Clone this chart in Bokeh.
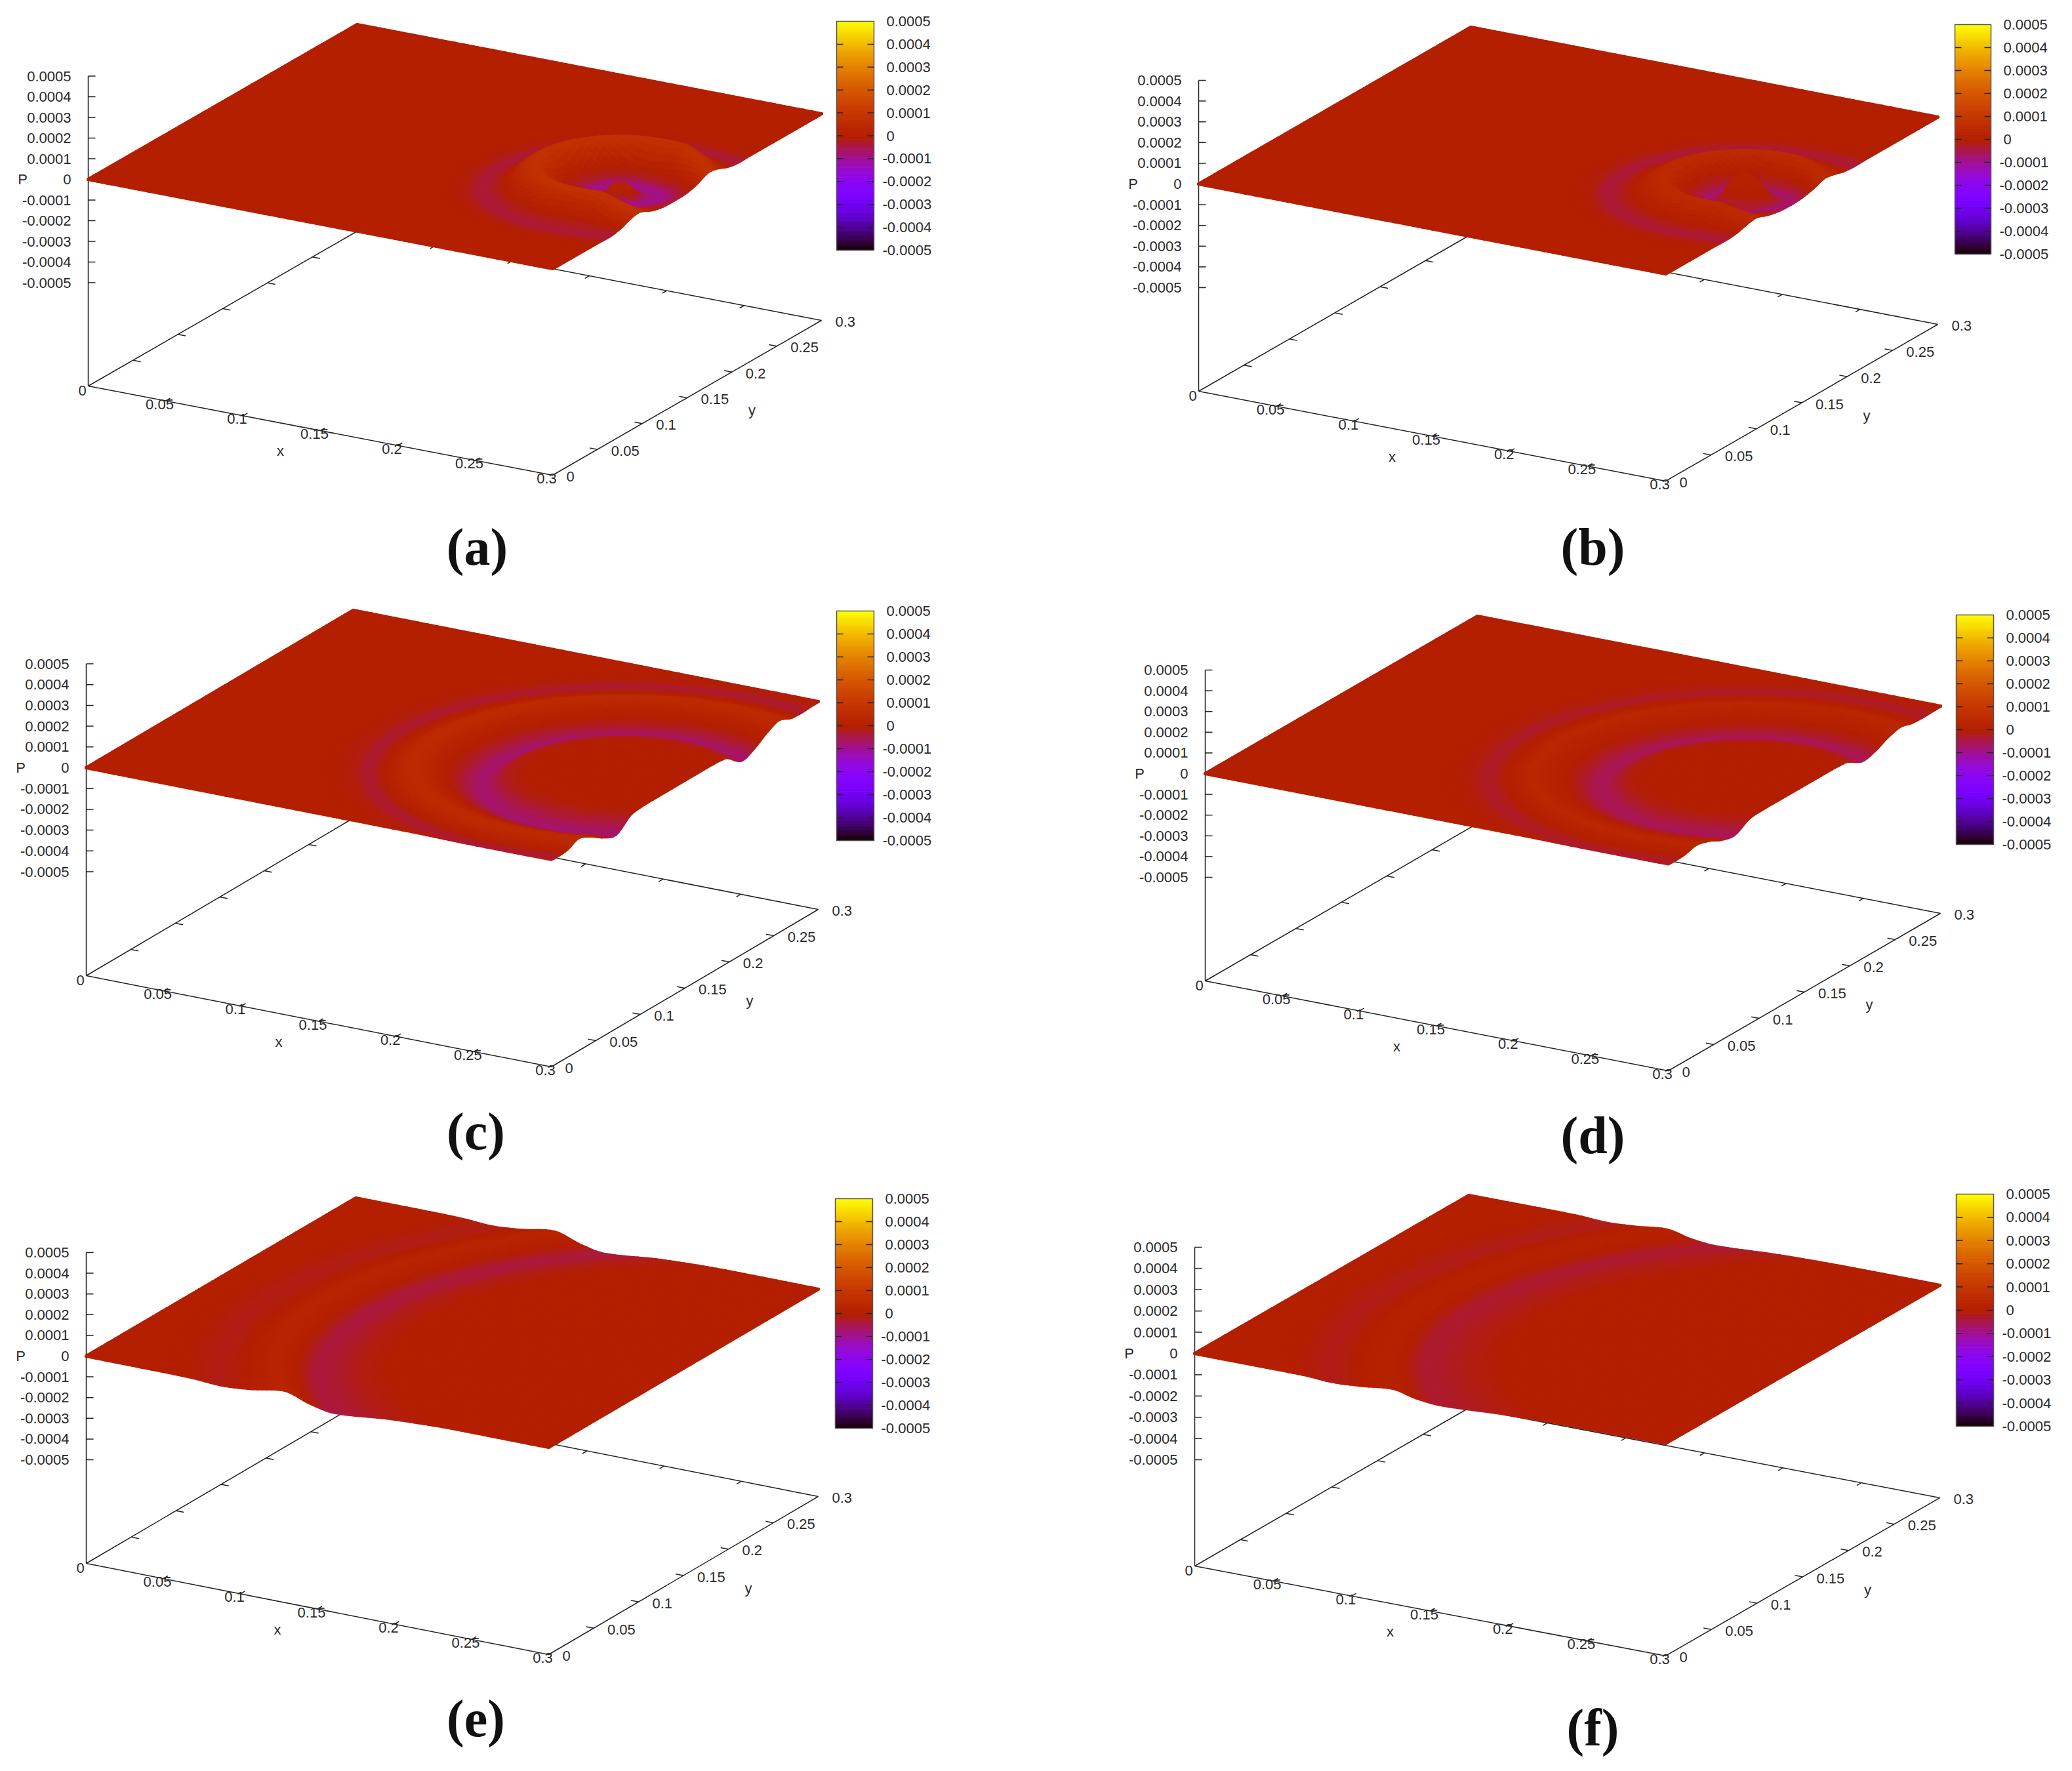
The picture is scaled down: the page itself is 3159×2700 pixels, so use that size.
import numpy as np
from bokeh.plotting import figure
from bokeh.layouts import column, row
from bokeh.models import Range1d, ColumnDataSource
from bokeh.core.properties import value
from bokeh.embed import file_html
from bokeh.resources import INLINE

# ---- tick labels -----
xy_ticks = [0.05, 0.1, 0.15, 0.2, 0.25]
xy_tick_labels = ["0.05", "0.1", "0.15", "0.2", "0.25"]
p_ticks = [0.0005, 0.0004, 0.0003, 0.0002, 0.0001, 0, -0.0001, -0.0002, -0.0003, -0.0004, -0.0005]
p_tick_labels = ["0.0005", "0.0004", "0.0003", "0.0002", "0.0001", "0",
                 "-0.0001", "-0.0002", "-0.0003", "-0.0004", "-0.0005"]
captions = ["(a)", "(b)", "(c)", "(d)", "(e)", "(f)"]

# ---- wave values: distance from source, colour value, surface height ----
r_a = [0, .004, .007, .010, .017, .026, .032, .047, .057, .064, .077, .088, .1]
c_a = [2e-5, 2e-5, 0, -6e-5, -9e-5, -3e-5, 0, 8e-5, 4e-5, 0, -3.5e-5, -.5e-5, 0]
h_a = [3e-5, 2e-5, -1e-5, -3e-5, -3e-5, -2e-5, 1e-5, 12e-5, 8e-5, 3e-5, -.5e-5, 0, 0]

r_b = [0, .005, .010, .015, .02, .026, .032, .044, .056, .063, .075, .086, .1]
c_b = [2e-5, 1.5e-5, 0, -4e-5, -7e-5, -3e-5, 0, 5e-5, 2e-5, -.5e-5, -3.5e-5, -.5e-5, 0]
h_b = [10e-5, 8e-5, 2e-5, -3e-5, -4e-5, -2e-5, 1e-5, 8e-5, 4e-5, 1e-5, -.5e-5, 0, 0]

r_c = [0, .05, .062, .08, .092, .105, .118, .132, .143, .153, .17]
c_c = [0, 0, -1e-5, -7e-5, -2.5e-5, 2e-5, 5e-5, 1e-5, -3e-5, -.7e-5, 0]
h_c = [0, 0, -.5e-5, -6.5e-5, -4e-5, 0, 2.5e-5, 0, -.3e-5, 0, 0]

r_d = [0, .05, .062, .08, .092, .105, .118, .132, .143, .153, .17]
c_d = [0, 0, -.7e-5, -5.5e-5, -2e-5, 1.5e-5, 3.5e-5, 0, -2.5e-5, -.6e-5, 0]
h_d = [0, 0, -.3e-5, -4.5e-5, -3e-5, 0, 1.5e-5, 0, -.2e-5, 0, 0]

r_e = [0, .16, .18, .205, .215, .228, .245, .26, .275, .29]
c_e = [0, 0, -1.2e-5, -3.8e-5, -5e-6, 2.5e-5, 0, -1.3e-5, -3e-6, 0]
h_e = [0, 0, -1e-5, -3.5e-5, -1.5e-5, 2.5e-5, 0, -1e-5, -2e-6, 0]

r_f = [0, .16, .18, .208, .218, .23, .245, .26, .275, .29]
c_f = [0, 0, -1e-5, -3e-5, -5e-6, 1.5e-5, 0, -1.5e-5, -3e-6, 0]
h_f = [0, 0, -.5e-5, -2e-5, -1e-5, 1.5e-5, 0, -.8e-5, -1e-6, 0]

profiles = [(r_a, c_a, h_a), (r_b, c_b, h_b), (r_c, c_c, h_c), (r_d, c_d, h_d), (r_e, c_e, h_e), (r_f, c_f, h_f)]
centres = [(.265, .135), (.27, .137), (.265, .143), (.265, .143), (.30, .15), (.30, .15)]
near_wall_squeeze = [.7, .7, 1, 1, 1, 1]
near_wall_height = [.3, .3, 1, 1, 1, 1]

# ---- layout of each panel: base corners O, X, XY and surface zero level, colour bar box -----
layouts = [
    dict(O=(134, 588), X=(842, 724), XY=(1252, 488), z0=273, cb=(1275, 32, 1332, 381), view=(0, 0, 1572, 892)),
    dict(O=(1827, 596), X=(2539, 733), XY=(2954, 494), z0=280, cb=(2980, 37, 3035, 387), view=(1572, 0, 1571, 892)),
    dict(O=(131, 1487), X=(840, 1626), XY=(1247, 1386), z0=1170, cb=(1275, 931, 1332, 1281), view=(0, 892, 1572, 890)),
    dict(O=(1837, 1495), X=(2543, 1632), XY=(2958, 1392), z0=1179, cb=(2982, 937, 3039, 1287), view=(1572, 892, 1571, 890)),
    dict(O=(131, 2383), X=(836, 2522), XY=(1247, 2281), z0=2067, cb=(1273, 1827, 1330, 2177), view=(0, 1782, 1572, 902)),
    dict(O=(1821, 2387), X=(2539, 2524), XY=(2957, 2283), z0=2063, cb=(2982, 1820, 3039, 2174), view=(1572, 1782, 1571, 902)),
]
caption_pos = [(727, 833), (2428, 833), (725, 1724), (2428, 1730), (725, 2619), (2428, 2633)]

LEVELS = 200
FONT = value("Liberation Sans")
TXT = "#2a2a2a"
LINE = "#222222"


def smooth(q, xs, ys):
    xs, ys = np.asarray(xs, float), np.asarray(ys, float)
    dx = np.diff(xs)
    sl = np.diff(ys) / dx
    m = np.zeros_like(ys)
    for i in range(1, len(ys) - 1):
        if sl[i - 1] * sl[i] > 0:
            w1, w2 = 2 * dx[i] + dx[i - 1], dx[i] + 2 * dx[i - 1]
            m[i] = (w1 + w2) / (w1 / sl[i - 1] + w2 / sl[i])
    q = np.clip(np.asarray(q, float), xs[0], xs[-1])
    k = np.clip(np.searchsorted(xs, q, side="right") - 1, 0, len(dx) - 1)
    t = (q - xs[k]) / dx[k]
    return ((2 * t ** 3 - 3 * t ** 2 + 1) * ys[k] + (t ** 3 - 2 * t ** 2 + t) * dx[k] * m[k]
            + (-2 * t ** 3 + 3 * t ** 2) * ys[k + 1] + (t ** 3 - t ** 2) * dx[k] * m[k + 1])


def palette(v):
    g = np.clip((np.asarray(v, float) + 5e-4) / 1e-3, 0, 1)
    g = np.round(g * LEVELS) / LEVELS
    r = np.sqrt(g)
    gg = g ** 3
    b = np.clip(np.sin(2 * np.pi * g), 0, 1)
    return r, gg, b


def hexcol(v):
    r, g, b = palette(v)
    return ["#%02x%02x%02x" % (int(a * 255), int(c * 255), int(d * 255))
            for a, c, d in zip(np.atleast_1d(r), np.atleast_1d(g), np.atleast_1d(b))]


def panel(idx):
    L = layouts[idx]
    rr, cc, hh = profiles[idx]
    xc, yc = centres[idx]
    squeeze = near_wall_squeeze[idx]
    wall = near_wall_height[idx]
    vx, vy, vw, vh = L["view"]
    p = figure(width=vw, height=vh, x_range=Range1d(vx, vx + vw), y_range=Range1d(vy + vh, vy),
               x_axis_type=None, y_axis_type=None, toolbar_location=None,
               output_backend="svg", min_border=0, outline_line_color=None)
    p.grid.visible = False
    Ox, Oy = L["O"]
    ax, ay = L["X"][0] - Ox, L["X"][1] - Oy
    bx, by = L["XY"][0] - L["X"][0], L["XY"][1] - L["X"][1]
    kz = (Oy - L["z0"]) / 1e-3

    def proj(x, y, z):
        x, y, z = np.asarray(x, float), np.asarray(y, float), np.asarray(z, float)
        return (Ox + x / .3 * ax + y / .3 * bx, Oy + x / .3 * ay + y / .3 * by - (z + 1e-3) * kz)

    def dist(x, y):
        dx = np.asarray(x, float) - xc
        dx = np.where(dx > 0, dx * squeeze, dx)
        return np.hypot(dx, np.asarray(y) - yc)

    def height(x, y):
        k = np.interp(np.asarray(x, float), [.28, .3], [1, wall])
        return smooth(dist(x, y), rr, hh) * k

    def colour(x, y):
        return smooth(dist(x, y), rr, cc)

    # base rectangle and its ticks
    ZB = -1e-3
    corners = [(0, 0), (.3, 0), (.3, .3), (0, .3), (0, 0)]
    px, py = proj([c[0] for c in corners], [c[1] for c in corners], [ZB] * 5)
    p.line(px, py, line_color=LINE, line_width=1.5)
    tx0, ty0, tx1, ty1 = [], [], [], []
    for t in xy_ticks:
        for (x0, y0, x1, y1) in [(t, 0, t, .005), (t, .3, t, .295), (0, t, .005, t), (.3, t, .295, t)]:
            a = proj(x0, y0, ZB)
            b = proj(x1, y1, ZB)
            tx0.append(float(a[0])); ty0.append(float(a[1])); tx1.append(float(b[0])); ty1.append(float(b[1]))
    p.segment(tx0, ty0, tx1, ty1, line_color=LINE, line_width=1.5)

    # P axis
    top = proj(0, 0, 5e-4)
    p.line([Ox, Ox], [float(top[1]), Oy], line_color=LINE, line_width=1.5)
    zy = [float(proj(0, 0, z)[1]) for z in p_ticks]
    p.segment([Ox] * len(zy), zy, [Ox + 11] * len(zy), zy, line_color=LINE, line_width=1.5)
    p.text([Ox - 26] * len(zy), zy, text=p_tick_labels, text_align="right", text_baseline="middle",
           text_font=FONT, text_font_size="22px", text_color=TXT)
    p.text([Ox - 100], [zy[5]], text=["P"], text_align="center", text_baseline="middle",
           text_font=FONT, text_font_size="22px", text_color=TXT)

    # tick labels on x and y
    lx, ly = proj(np.array(xy_ticks + [.3]), np.zeros(6), np.full(6, ZB))
    p.text(lx - 9, ly + 5, text=xy_tick_labels + ["0.3"], text_align="center", text_baseline="middle",
           text_font=FONT, text_font_size="22px", text_color=TXT)
    p.text([Ox - 9], [Oy + 7], text=["0"], text_align="center", text_baseline="middle",
           text_font=FONT, text_font_size="22px", text_color=TXT)
    yv = np.array([0] + xy_ticks + [.3])
    lx, ly = proj(np.full(7, .3), yv, np.full(7, ZB))
    p.text(lx + 21, ly + 2, text=["0"] + xy_tick_labels + ["0.3"], text_align="left", text_baseline="middle",
           text_font=FONT, text_font_size="22px", text_color=TXT)
    mx = proj(.15, 0, ZB)
    my = proj(.3, .15, ZB)
    p.text([float(mx[0]) - 61], [float(mx[1]) + 31], text=["x"], text_align="center", text_baseline="middle",
           text_font=FONT, text_font_size="22px", text_color=TXT)
    p.text([float(my[0]) + 99], [float(my[1]) + 19], text=["y"], text_align="center", text_baseline="middle",
           text_font=FONT, text_font_size="22px", text_color=TXT)

    # surface: flat plate under the wave
    N = 100
    e = np.linspace(0, .3, N + 1)
    zeros = np.zeros_like(e)
    full = np.full_like(e, .3)
    bx_ = np.concatenate([e, full, e[::-1], zeros])
    by_ = np.concatenate([zeros, e, full, e[::-1]])
    sx, sy = proj(bx_, by_, height(bx_, by_))
    base = hexcol([0.0])[0]
    p.patch(sx, sy, fill_color=base, line_color=None)

    def rim(x, y):
        x, y = np.asarray(x), np.asarray(y)
        ax_, ay_ = proj(x, y, height(x, y))
        xs = [[float(ax_[i]), float(ax_[i + 1])] for i in range(len(x) - 1)]
        ys = [[float(ay_[i]), float(ay_[i + 1])] for i in range(len(x) - 1)]
        cols = hexcol(colour((x[:-1] + x[1:]) / 2, (y[:-1] + y[1:]) / 2))
        p.multi_line(xs, ys, line_color=cols, line_width=5, line_cap="round", line_join="round")

    rim(zeros, e)
    rim(e, full)

    # wave cells, drawn from the back to the front
    X0, Y0 = np.meshgrid(e[:-1], e[:-1], indexing="ij")
    d = e[1] - e[0]
    X0, Y0 = X0.ravel(), Y0.ravel()
    keep = dist(X0 + d / 2, Y0 + d / 2) < rr[-1]
    X0, Y0 = X0[keep], Y0[keep]
    order = np.argsort(X0 - Y0, kind="stable")
    X0, Y0 = X0[order], Y0[order]
    cx = np.stack([X0, X0 + d, X0 + d, X0], 1)
    cy = np.stack([Y0, Y0, Y0 + d, Y0 + d], 1)
    qx, qy = proj(cx, cy, height(cx, cy))
    cols = hexcol(colour(X0 + d / 2, Y0 + d / 2))
    src = ColumnDataSource(dict(xs=qx.tolist(), ys=qy.tolist(), c=cols))
    p.patches("xs", "ys", source=src, fill_color="c", line_color="c", line_width=1)

    rim(full, e)
    rim(e, zeros)

    # colour bar
    x0, y0, x1, y1 = L["cb"]
    cbv = np.linspace(-5e-4, 5e-4, LEVELS + 1)
    ymap = lambda v: y1 - (np.asarray(v) + 5e-4) / 1e-3 * (y1 - y0)
    cbc = hexcol((cbv[1:] + cbv[:-1]) / 2)
    p.quad(left=x0, right=x1, top=ymap(cbv[1:]), bottom=ymap(cbv[:-1]), fill_color=cbc,
           line_color=cbc, line_width=1)
    cby = [float(ymap(v)) for v in p_ticks]
    p.segment([x0] * 9, cby[1:-1], [x0 + 10] * 9, cby[1:-1], line_color=LINE, line_width=1.5)
    p.segment([x1 - 10] * 9, cby[1:-1], [x1] * 9, cby[1:-1], line_color=LINE, line_width=1.5)
    p.quad(left=[x0], right=[x1], top=[y0], bottom=[y1], fill_color=None, line_color="#555555", line_width=1.5)
    p.text([x1 + 19 if v >= 0 else x1 + 13 for v in p_ticks], cby, text=p_tick_labels, text_align="left",
           text_baseline="middle", text_font=FONT, text_font_size="22px", text_color=TXT)

    # caption
    cx_, cy_ = caption_pos[idx]
    p.text([cx_], [cy_], text=[captions[idx]], text_align="center", text_baseline="middle",
           text_font=value("Liberation Serif"), text_font_style="bold", text_font_size="80px", text_color="#111111")
    return p


figs = [panel(i) for i in range(6)]
page = column(row(figs[0], figs[1]), row(figs[2], figs[3]), row(figs[4], figs[5]))
open("out.html", "w").write(file_html(page, INLINE))
